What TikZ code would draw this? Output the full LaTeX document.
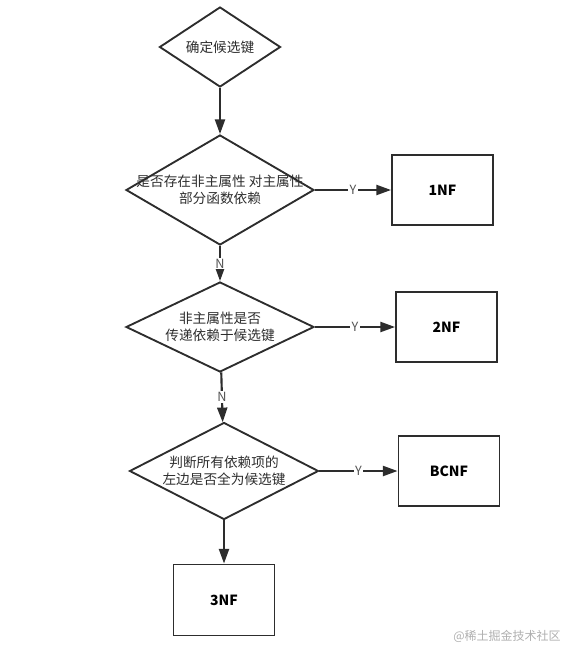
\documentclass[tikz,border=0pt]{standalone}
\usepackage{fontspec}
\setmainfont{Noto Sans CJK SC}
\usepackage{tikz}
\usetikzlibrary{shapes.geometric,arrows.meta,positioning}
\definecolor{linegray}{RGB}{45,45,45}
\definecolor{labelgray}{RGB}{85,85,85}
\definecolor{markgray}{RGB}{175,175,175}

\begin{document}
\begin{tikzpicture}[x=0.75pt,y=-0.75pt,
    decision/.style={diamond, draw=linegray, line width=1.4pt, inner sep=0pt},
    stage/.style={rectangle, draw=linegray, line width=1.4pt, minimum width=75.75pt, minimum height=52.5pt, font=\bfseries\fontsize{10.5}{12}\selectfont},
    flow/.style={draw=linegray, line width=1.6pt, -{Triangle[length=11pt,width=7.5pt]}},
    answer/.style={fill=white, text=labelgray, inner sep=1pt, font=\fontsize{9.5}{10}\selectfont},
    question/.style={align=center, text=linegray, font=\fontsize{10.25}{12.75}\selectfont}]

        % fix the page to the reference size
        \useasboundingbox (0,0) rectangle (565,646);

        % Define decisions
        \node[decision, minimum width=90.75pt, minimum height=60pt,
            label={[question]center:确定候选键}] (key) at (220,47) {};
        \node[decision, minimum width=141pt, minimum height=82.5pt,
            label={[question]center:是否存在非主属性 对主属性\\部分函数依赖}] (partial) at (220,190) {};
        \node[decision, minimum width=141pt, minimum height=67.5pt,
            label={[question]center:非主属性是否\\传递依赖于候选键}] (trans) at (220,327) {};
        \node[decision, minimum width=141.75pt, minimum height=72.75pt,
            label={[question]center:判断所有依赖项的\\左边是否全为候选键}] (left) at (224,471) {};

        % Define normal forms
        \node[stage] (nf1) at (442.5,190) {1NF};
        \node[stage] (nf2) at (446.5,327) {2NF};
        \node[stage] (bcnf) at (449,471) {BCNF};
        \node[stage, minimum height=53.25pt] (nf3) at (224,600) {3NF};

        % Define flow
        \draw[flow] (key) -- (partial);
        \draw[flow] (partial) -- node[answer] {Y} (nf1);
        \draw[flow] (partial) -- node[answer] {N} (trans);
        \draw[flow] (trans) -- node[answer] {Y} (nf2);
        \draw[flow] (trans) -- node[answer] {N} (left);
        \draw[flow] (left) -- node[answer] {Y} (bcnf);
        \draw[flow] (left) -- (nf3);

        % watermark
        \node[text=markgray, font=\fontsize{9}{10}\selectfont] (mark) at (507,636) {@稀土掘金技术社区};
\end{tikzpicture}
\end{document}
